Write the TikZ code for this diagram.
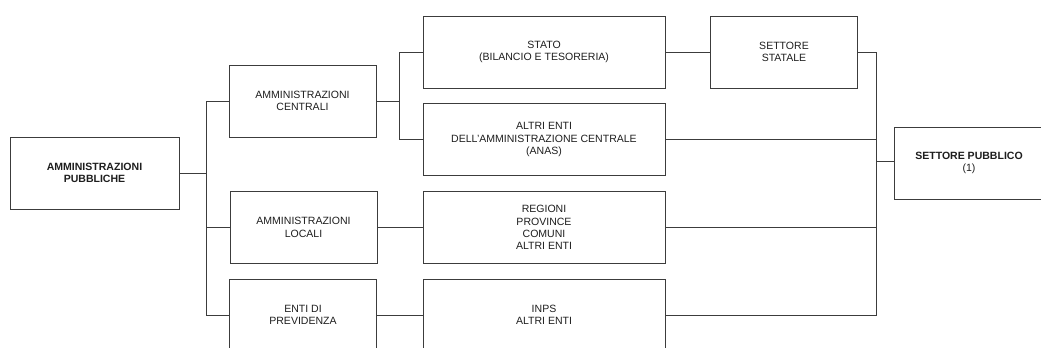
\documentclass[tikz,border=0pt]{standalone}
\usepackage{fontspec}
\setmainfont{Liberation Sans}
\usetikzlibrary{positioning,calc}
\definecolor{spInk} {RGB}{ 30, 30, 30}
\definecolor{spLine}{RGB}{ 60, 60, 60}

\begin{document}
\begin{tikzpicture}[
  x=0.75pt,y=-0.75pt,
  font=\fontsize{7.9}{9.2}\selectfont,
  box/.style={rectangle,draw=spLine,line width=0.7pt,fill=white,
              minimum height=54pt,inner sep=0pt,align=center,
              text=spInk},
  boxL/.style={box,minimum width=126.75pt},
  boxM/.style={box,minimum width=110.25pt},
  boxW/.style={box,minimum width=181.5pt},
  boxR/.style={box,minimum width=112.5pt},
  link/.style={draw=spLine,line width=0.7pt}
]
\path[use as bounding box,clip] (0,0) rectangle (1041,347);
\fill[white] (0,0) rectangle (1041,347);

% --- Column 1
\node[boxL] (AP) at (94.5,173) {\bfseries AMMINISTRAZIONI\\\bfseries PUBBLICHE};

% --- Column 2
\node[boxM] (AC) at (302.5,101)  {AMMINISTRAZIONI\\CENTRALI};
\node[boxM] (AL) at (303.5,227.5){AMMINISTRAZIONI\\LOCALI};
\node[boxM] (EP) at (303,315)    {ENTI DI\\PREVIDENZA};

% --- Column 3
\node[boxW] (ST) at (544,52)     {STATO\\(BILANCIO E TESORERIA)};
\node[boxW] (AE) at (544,139.5)  {ALTRI ENTI\\DELL'AMMINISTRAZIONE CENTRALE\\(ANAS)};
\node[boxW] (RG) at (544,227.5)  {REGIONI\\PROVINCE\\COMUNI\\ALTRI ENTI};
\node[boxW] (IN) at (544,315)    {INPS\\ALTRI ENTI};

% --- Column 4
\node[boxM] (SS) at (784,52)     {SETTORE\\STATALE};
\node[boxR] (SP) at (969,163)    {\bfseries SETTORE PUBBLICO\\(1)};

% --- Buses
\coordinate (busA) at (206,173);
\coordinate (busB) at (399,101);
\coordinate (busC) at (876,161);

\draw[link] (AP.east) -- (busA);
\draw[link] (AC.west) -| (busA);
\draw[link] (EP.west) -| (busA);
\draw[link] (AL.west) -- (AL.west -| busA);

\draw[link] (AC.east) -- (busB);
\draw[link] (ST.west) -| (busB);
\draw[link] (AE.west) -| (busB);

\draw[link] (AL.east) -- (RG.west);
\draw[link] (EP.east) -- (IN.west);
\draw[link] (ST.east) -- (SS.west);

\draw[link] (SS.east) -| (busC);
\draw[link] (IN.east) -| (busC);
\draw[link] (AE.east) -- (AE.east -| busC);
\draw[link] (RG.east) -- (RG.east -| busC);
\draw[link] (busC) -- (busC -| SP.west);
\end{tikzpicture}
\end{document}
